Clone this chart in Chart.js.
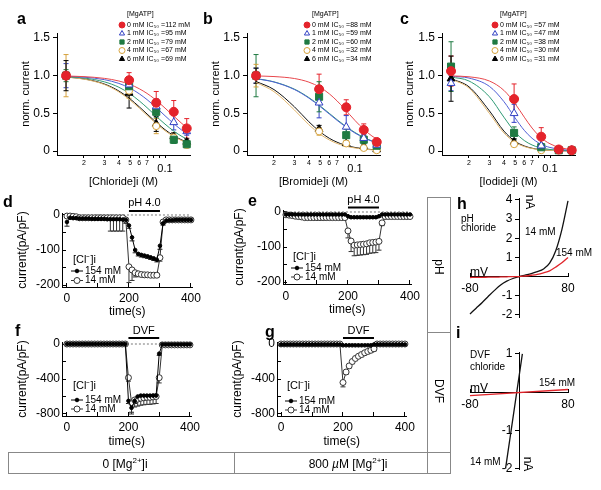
<!DOCTYPE html>
<html lang="en">
<head>
<meta charset="UTF-8">
<title>Halide block and acid / DVF currents</title>
<script src="https://cdn.jsdelivr.net/npm/chart.js"></script>
<style>
  body { margin: 0; background: #fff; }
  #fig { position: relative; width: 601px; height: 490px; overflow: hidden;
         font-family: 'Liberation Sans', Arial, sans-serif; color: #000; }
  #fig canvas { position: absolute; }
  .t { position: absolute; white-space: nowrap; line-height: 1; }
  .lt { font-weight: bold; font-size: 16px; }
  .sm { font-size: 10px; }
  .md { font-size: 12px; }
  .box { position: absolute; border: 1px solid #888; box-sizing: border-box; }
  .hl { position: absolute; height: 0; border-top: 1px solid #888; }
  .vl { position: absolute; width: 0; border-left: 1px solid #888; }
  .rot { transform: translate(-50%, -50%) rotate(90deg); }
  .ctr { transform: translate(-50%, -50%); }
</style>
</head>
<body>
<div id="fig">
  <canvas id="chA" width="205" height="195" style="left:0;top:0"></canvas>
  <canvas id="chB" width="205" height="195" style="left:195px;top:0"></canvas>
  <canvas id="chC" width="211" height="195" style="left:390px;top:0"></canvas>
  <canvas id="chD" width="215" height="125" style="left:0;top:195px"></canvas>
  <canvas id="chE" width="215" height="125" style="left:215px;top:195px"></canvas>
  <canvas id="chF" width="215" height="128" style="left:0;top:322px"></canvas>
  <canvas id="chG" width="215" height="128" style="left:215px;top:322px"></canvas>
  <canvas id="chH" width="161" height="143" style="left:440px;top:185px"></canvas>
  <canvas id="chI" width="161" height="140" style="left:440px;top:340px"></canvas>

  <div class="t lt" style="left:17px;top:11px">a</div>
  <div class="t lt" style="left:203px;top:11px">b</div>
  <div class="t lt" style="left:400px;top:11px">c</div>
  <div class="t lt" style="left:3px;top:194px">d</div>
  <div class="t lt" style="left:248px;top:193px">e</div>
  <div class="t lt" style="left:15px;top:323px">f</div>
  <div class="t lt" style="left:265px;top:324px">g</div>
  <div class="t lt" style="left:457px;top:196px">h</div>
  <div class="t lt" style="left:456px;top:325px">i</div>

  <div class="t sm" style="left:461px;top:214px;line-height:9px">pH<br>chloride</div>
  <div class="t sm" style="left:525px;top:227px">14 mM</div>
  <div class="t sm" style="left:556px;top:248px">154 mM</div>
  <div class="t md" style="left:470px;top:266px">mV</div>
  <div class="t md rot" style="left:530px;top:202px">nA</div>

  <div class="t sm" style="left:470px;top:349px;line-height:11.5px">DVF<br>chloride</div>
  <div class="t sm" style="left:539px;top:378px">154 mM</div>
  <div class="t md" style="left:470px;top:382px">mV</div>
  <div class="t sm" style="left:470px;top:457px">14 mM</div>
  <div class="t md rot" style="left:528px;top:464px">nA</div>

  <div class="box" style="left:427px;top:197px;width:24px;height:277px"></div>
  <div class="hl" style="left:427px;top:332px;width:24px"></div>
  <div class="box" style="left:8px;top:452px;width:443px;height:22px"></div>
  <div class="vl" style="left:234px;top:452px;height:22px"></div>
  <div class="t md rot" style="left:439px;top:267px">pH</div>
  <div class="t md rot" style="left:439px;top:391px">DVF</div>
  <div class="t md ctr" style="left:125px;top:463px">0 [Mg<sup style="font-size:8px">2+</sup>]i</div>
  <div class="t md ctr" style="left:348px;top:463px">800 <i>µ</i>M [Mg<sup style="font-size:8px">2+</sup>]i</div>
</div>

<script>
// ---- dose-response (a, b, c) ----
const conc = [0.014, 0.049, 0.084, 0.119, 0.154];            // M
const fitX = [0.014, 0.02, 0.03, 0.04, 0.05, 0.06, 0.07, 0.08, 0.09, 0.1, 0.12, 0.14, 0.16];
const mgLabels = ['0 mM', '1 mM', '2 mM', '4 mM', '6 mM'];
const ic50Cl = [112, 95, 79, 67, 69];
const ic50Br = [88, 59, 60, 32, 34];
const ic50I = [57, 47, 38, 30, 31];

const clMean = [
  [1.0, 0.94, 0.64, 0.52, 0.30],
  [1.0, 0.88, 0.59, 0.38, 0.26],
  [1.0, 0.86, 0.52, 0.15, 0.09],
  [1.0, 0.80, 0.33, 0.18, 0.08],
  [1.0, 0.77, 0.36, 0.19, 0.12]
];
const clErr = [
  [0.05, 0.10, 0.15, 0.15, 0.13],
  [0.16, 0.08, 0.10, 0.10, 0.05],
  [0.08, 0.08, 0.08, 0.05, 0.04],
  [0.28, 0.10, 0.10, 0.06, 0.04],
  [0.20, 0.20, 0.10, 0.05, 0.04]
];
const clFit = [
  [0.995, 0.987, 0.964, 0.929, 0.883, 0.826, 0.764, 0.699, 0.633, 0.570, 0.457, 0.364, 0.291],
  [0.992, 0.980, 0.947, 0.897, 0.833, 0.759, 0.682, 0.606, 0.534, 0.468, 0.358, 0.275, 0.214],
  [0.987, 0.969, 0.918, 0.846, 0.758, 0.665, 0.575, 0.492, 0.419, 0.357, 0.260, 0.193, 0.146],
  [0.980, 0.954, 0.882, 0.784, 0.675, 0.569, 0.473, 0.391, 0.324, 0.269, 0.189, 0.137, 0.102],
  [0.982, 0.957, 0.889, 0.796, 0.691, 0.586, 0.491, 0.409, 0.340, 0.283, 0.200, 0.146, 0.109]
];

const brMean = [
  [1.0, 0.82, 0.58, 0.28, 0.12],
  [1.0, 0.64, 0.32, 0.17, 0.08],
  [1.0, 0.72, 0.21, 0.15, 0.07],
  [1.0, 0.26, 0.10, 0.04, 0.01],
  [1.0, 0.29, 0.10, 0.06, 0.02]
];
const brErr = [
  [0.05, 0.20, 0.10, 0.08, 0.03],
  [0.10, 0.20, 0.15, 0.05, 0.04],
  [0.28, 0.20, 0.08, 0.05, 0.03],
  [0.15, 0.05, 0.03, 0.02, 0.01],
  [0.10, 0.05, 0.03, 0.02, 0.01]
];
const brFit = [
  [0.996, 0.988, 0.962, 0.914, 0.845, 0.759, 0.665, 0.571, 0.483, 0.405, 0.283, 0.199, 0.143],
  [0.960, 0.915, 0.816, 0.702, 0.590, 0.491, 0.407, 0.339, 0.283, 0.238, 0.173, 0.130, 0.100],
  [0.962, 0.918, 0.821, 0.709, 0.599, 0.500, 0.416, 0.347, 0.291, 0.245, 0.179, 0.134, 0.104],
  [0.910, 0.788, 0.545, 0.349, 0.223, 0.147, 0.100, 0.071, 0.052, 0.040, 0.024, 0.016, 0.011],
  [0.923, 0.815, 0.587, 0.388, 0.254, 0.169, 0.117, 0.083, 0.061, 0.047, 0.028, 0.019, 0.013]
];

const ioMean = [
  [1.06, 0.69, 0.19, 0.02, 0.01],
  [0.90, 0.50, 0.07, 0.02, 0.01],
  [1.12, 0.24, 0.05, 0.01, 0.01],
  [1.05, 0.09, 0.01, 0.01, 0.00],
  [0.96, 0.12, 0.07, 0.02, 0.01]
];
const ioErr = [
  [0.20, 0.20, 0.12, 0.02, 0.02],
  [0.10, 0.12, 0.03, 0.02, 0.01],
  [0.33, 0.08, 0.03, 0.01, 0.01],
  [0.10, 0.03, 0.01, 0.01, 0.01],
  [0.30, 0.04, 0.02, 0.01, 0.01]
];
const ioFit = [
  [0.996, 0.985, 0.929, 0.805, 0.628, 0.449, 0.305, 0.205, 0.139, 0.096, 0.048, 0.027, 0.016],
  [0.992, 0.968, 0.858, 0.656, 0.438, 0.274, 0.169, 0.106, 0.069, 0.047, 0.023, 0.013, 0.007],
  [0.982, 0.929, 0.720, 0.449, 0.250, 0.139, 0.080, 0.048, 0.031, 0.020, 0.010, 0.005, 0.003],
  [0.955, 0.835, 0.500, 0.240, 0.115, 0.059, 0.033, 0.019, 0.012, 0.008, 0.004, 0.002, 0.001],
  [0.960, 0.852, 0.533, 0.265, 0.129, 0.067, 0.037, 0.022, 0.014, 0.009, 0.004, 0.002, 0.001]
];

const logTicks = [0.02, 0.03, 0.04, 0.05, 0.06, 0.07, 0.08, 0.09, 0.1];
const logTickText = ['2', '3', '4', '5', '6', '7', '', '', ['', '0.1']];
const normTicks = [0, 0.5, 1, 1.5];

// ---- time courses (d, e, f, g) ----
const tSec = [0,10,20,30,40,50,60,70,80,90,100,110,120,130,140,150,160,170,180,190,200,
              210,220,230,240,250,260,270,280,290,300,310,320,330,340,350,360,370,380,390,400];
const timeTicks = [0, 100, 200, 300, 400];

const dCl154 = [-20,-8,-9,-9,-10,-10,-10,-10,-11,-11,-11,-11,-11,-12,-12,-12,-12,-12,-13,-14,
                -30,-64,-100,-111,-114,-116,-118,-121,-124,-128,-88,-24,-16,-15,-15,-14,-14,-14,-14,-14,-14];
const dCl154Err = [12,2,2,2,2,2,2,2,2,2,2,2,2,2,2,2,2,2,2,3,8,10,8,6,6,6,6,6,6,6,10,5,2,2,2,2,2,2,2,2,2];
const dCl14 = [-3,-3,-4,-5,-8,-8,-8,-8,-8,-8,-8,-8,-8,-8,-8,-8,-8,-8,-8,-14,
               -148,-157,-165,-168,-170,-171,-171,-172,-172,-172,-122,-20,-14,-14,-14,-14,-14,-14,-14,-14,-14];
const dCl14Err = [3,3,3,3,3,3,3,3,3,3,3,3,3,3,38,38,38,38,38,10,45,30,12,6,6,6,6,6,6,6,10,4,3,3,3,3,3,3,3,3,3];

const eCl154 = [-7,-7,-7,-7,-7,-7,-7,-7,-7,-7,-7,-7,-7,-7,-7,-7,-7,-7,-7,-7,
                -12,-15,-15,-15,-15,-15,-15,-15,-15,-15,-12,-7,-7,-7,-7,-7,-7,-7,-7,-7,-7];
const eCl154Err = [0,0,0,0,0,0,0,0,0,0,0,0,0,0,0,0,0,0,0,0,3,3,3,3,3,3,3,3,3,3,3,0,0,0,0,0,0,0,0,0,0];
const eCl14 = [-8,-9,-10,-12,-13,-14,-16,-16,-16,-16,-16,-16,-16,-16,-16,-16,-16,-16,-16,-16,
               -54,-83,-95,-94,-93,-92,-91,-88,-87,-86,-84,-31,-13,-13,-13,-13,-13,-13,-13,-13,-13];
const eCl14Err = [3,3,3,3,3,3,3,3,3,3,3,3,3,3,3,3,3,3,3,3,20,30,30,30,30,30,30,30,30,30,25,8,3,3,3,3,3,3,3,3,3];

const fCl154 = [0,0,0,0,0,0,0,0,0,0,0,0,0,0,0,0,0,0,0,0,
                -650,-730,-650,-600,-590,-590,-590,-590,-590,-590,-110,-5,-5,-5,-5,-5,-5,-5,-5,-5,-5];
const fCl154Err = [0,0,0,0,0,0,0,0,0,0,0,0,0,0,0,0,0,0,0,0,30,50,30,20,20,20,20,20,20,20,20,0,0,0,0,0,0,0,0,0,0];
const fCl14 = [0,0,0,0,0,0,0,0,0,0,0,0,0,0,0,0,0,0,0,0,
               -385,-670,-640,-630,-620,-615,-610,-610,-605,-600,-385,-10,-10,-10,-10,-10,-10,-10,-10,-10,-10];
const fCl14Err = [0,0,0,0,0,0,0,0,0,0,0,0,0,0,0,0,0,0,0,0,40,130,80,80,80,80,80,80,80,80,60,0,0,0,0,0,0,0,0,0,0];

const gCl154 = [-5,-5,-5,-5,-5,-5,-5,-5,-5,-5,-5,-5,-5,-5,-5,-5,-5,-5,-5,-5,
                -15,-15,-15,-15,-15,-15,-15,-15,-15,-15,-5,-5,-5,-5,-5,-5,-5,-5,-5,-5,-5];
const gCl14 = [0,0,0,0,0,0,0,0,0,0,0,0,0,0,0,0,0,0,0,0,
               -440,-320,-250,-200,-165,-140,-120,-100,-85,-72,-55,0,0,0,0,0,0,0,0,0,0];
const gCl14Err = [0,0,0,0,0,0,0,0,0,0,0,0,0,0,0,0,0,0,0,0,50,25,25,25,25,25,25,25,25,25,25,0,0,0,0,0,0,0,0,0,0];

// ---- I-V (h, i) ----
const ivMv = [-80,-70,-60,-50,-40,-30,-20,-10,0,10,20,30,40,50,60,70,80];
const hCl14 = [-1.95,-1.65,-1.35,-1.03,-0.72,-0.44,-0.24,-0.10,0,0.08,0.16,0.26,0.40,0.70,1.35,2.45,3.95];
const hCl154 = [-0.05,-0.04,-0.04,-0.03,-0.03,-0.02,-0.01,0,0,0.03,0.07,0.12,0.20,0.30,0.50,0.72,1.00];
const iMv14 = [-22, 5.5];
const iCl14 = [-2, 1];
const iMv154 = [-80, 80];
const iCl154 = [-0.09, 0.07];

// ---- styles ----
const FONT = "'Liberation Sans', Arial, sans-serif";
Chart.defaults.font.family = FONT;
Chart.defaults.color = '#000';
Chart.defaults.animation = false;
Chart.defaults.responsive = false;
Chart.defaults.plugins.legend.display = false;
Chart.defaults.plugins.tooltip.enabled = false;

const mgStyle = [
  {shape: 'circle',   r: 4.5, fill: '#e4232b', edge: '#e4232b', line: '#e8474c'},
  {shape: 'triangle', r: 4.5, fill: '#ffffff', edge: '#3342c4', line: '#4f5fd6'},
  {shape: 'rect',     r: 5,   fill: '#1f7a42', edge: '#1f7a42', line: '#2e9a74'},
  {shape: 'circle',   r: 3.5, fill: '#ffffff', edge: '#d6a23c', line: '#e2b56a'},
  {shape: 'triangle', r: 4.5, fill: '#000000', edge: '#000000', line: '#111111'}
];

const pts = (xs, ys) => xs.map((x, i) => ({x, y: ys[i]}));

// error bars, drawn under the markers
Chart.register({
  id: 'errorBars',
  beforeDatasetsDraw(chart) {
    const ctx = chart.ctx, ys = chart.scales.y;
    chart.data.datasets.forEach((ds, i) => {
      if (!ds.errors) return;
      const meta = chart.getDatasetMeta(i);
      ctx.save();
      ctx.strokeStyle = ds.errorColor || '#333';
      ctx.lineWidth = 1;
      meta.data.forEach((pt, j) => {
        const e = ds.errors[j];
        if (!e) return;
        const v = ds.data[j].y;
        const ends = ds.errorDown ? [v - e] : [v - e, v + e];
        ends.forEach(end => {
          const yy = ys.getPixelForValue(end);
          ctx.beginPath();
          ctx.moveTo(pt.x, pt.y); ctx.lineTo(pt.x, yy);
          ctx.moveTo(pt.x - 2.5, yy); ctx.lineTo(pt.x + 2.5, yy);
          ctx.stroke();
        });
      });
      ctx.restore();
    });
  }
});

// dashed zero line across the recording
Chart.register({
  id: 'zeroLine',
  beforeDatasetsDraw(chart, args, o) {
    if (!o.show) return;
    const {ctx, scales} = chart;
    const y = scales.y.getPixelForValue(0);
    ctx.save();
    ctx.strokeStyle = '#777'; ctx.lineWidth = 1; ctx.setLineDash([2, 2]);
    ctx.beginPath();
    ctx.moveTo(scales.x.getPixelForValue(0), y);
    ctx.lineTo(scales.x.getPixelForValue(400), y);
    ctx.stroke();
    ctx.restore();
  }
});

// application bar (pH 4.0 / DVF)
Chart.register({
  id: 'stimBar',
  afterDraw(chart, args, o) {
    if (!o.label) return;
    const {ctx, chartArea, scales} = chart;
    const x1 = scales.x.getPixelForValue(o.from), x2 = scales.x.getPixelForValue(o.to);
    ctx.save();
    ctx.fillStyle = '#000';
    ctx.fillRect(x1, chartArea.top + o.barDy - 1, x2 - x1, 2);
    ctx.font = '11px ' + FONT;
    ctx.textAlign = 'center'; ctx.textBaseline = 'middle';
    ctx.fillText(o.label, (x1 + x2) / 2, chartArea.top + o.textDy);
    ctx.restore();
  }
});

// [MgATP] legend of a-c
Chart.register({
  id: 'mgLegend',
  afterDatasetsDraw(chart, args, o) {
    if (!o.labels) return;
    const ctx = chart.ctx;
    ctx.save();
    ctx.font = '7px ' + FONT;
    ctx.textBaseline = 'middle';
    ctx.fillStyle = '#000';
    ctx.fillText('[MgATP]', o.x + 5, o.y - 11);
    o.labels.forEach((txt, i) => {
      const ds = chart.data.datasets[i];
      const y = o.y + i * o.dy;
      ctx.fillStyle = ds.pointBackgroundColor;
      ctx.strokeStyle = ds.pointBorderColor;
      ctx.lineWidth = 1;
      Chart.helpers.drawPoint(ctx, {pointStyle: ds.pointStyle, radius: 3, borderWidth: 1, rotation: 0}, o.x, y);
      ctx.fillStyle = '#000';
      ctx.fillText(txt, o.x + 5, y);
    });
    ctx.restore();
  }
});

// [Cl-]i legend of d-g
Chart.register({
  id: 'clLegend',
  afterDatasetsDraw(chart, args, o) {
    if (!o.labels) return;
    const ctx = chart.ctx;
    ctx.save();
    ctx.textBaseline = 'middle';
    ctx.fillStyle = '#000';
    ctx.font = '11px ' + FONT;
    ctx.fillText('[Cl\u207B]i', o.x - 4, o.hy);
    ctx.font = '10px ' + FONT;
    o.labels.forEach((txt, i) => {
      const ds = chart.data.datasets[i];
      const y = o.ys[i];
      ctx.strokeStyle = ds.borderColor; ctx.lineWidth = 1;
      ctx.beginPath(); ctx.moveTo(o.x - 6, y); ctx.lineTo(o.x + 6, y); ctx.stroke();
      ctx.fillStyle = ds.pointBackgroundColor; ctx.strokeStyle = ds.pointBorderColor;
      Chart.helpers.drawPoint(ctx, {pointStyle: 'circle', radius: ds.pointRadius, borderWidth: 1, rotation: 0}, o.x, y);
      ctx.fillStyle = '#000';
      ctx.fillText(txt, o.x + 8, y);
    });
    ctx.restore();
  }
});

function doseChart(id, mean, err, fit, ic50, o) {
  const datasets = mgStyle.map((s, k) => ({
    data: pts(conc, mean[k]), errors: err[k], errorColor: s.edge, showLine: false,
    pointStyle: s.shape, pointRadius: s.r, pointBackgroundColor: s.fill,
    pointBorderColor: s.edge, pointBorderWidth: 1, clip: false
  })).concat(mgStyle.map((s, k) => ({
    data: pts(fitX, fit[k]), showLine: true, pointRadius: 0, borderColor: s.line,
    borderWidth: 1, cubicInterpolationMode: 'monotone', clip: false
  })));
  return new Chart(document.getElementById(id), {
    type: 'scatter',
    data: {datasets},
    options: {
      layout: {padding: {top: 33, right: o.padRight, left: 0, bottom: 0}},
      scales: {
        x: {
          type: 'logarithmic', min: 0.0117, max: 0.1643,
          afterBuildTicks: s => { s.ticks = logTicks.map(v => ({value: v})); },
          afterFit: s => { s.height = 40; },
          grid: {drawOnChartArea: false, tickLength: 3, color: '#000'},
          border: {color: '#000'},
          ticks: {
            autoSkip: false, maxRotation: 0, padding: 1, color: '#000',
            callback: (v, i) => logTickText[i],
            font: c => (c.index === 8 ? {size: 11, lineHeight: 0.6} : {size: 7})
          },
          title: {display: true, text: o.xTitle, font: {size: 11}, padding: {top: 0, bottom: 6.4}}
        },
        y: {
          min: -0.053, max: 1.566,
          afterBuildTicks: s => { s.ticks = normTicks.map(v => ({value: v})); },
          afterFit: s => { s.width = o.leftW; },
          grid: {drawOnChartArea: false, tickLength: 4, color: '#000'},
          border: {color: '#000'},
          ticks: {padding: 3, font: {size: 12}, color: '#000', callback: v => (v === 0 ? '0' : v.toFixed(1))},
          title: {display: true, text: 'norm. current', font: {size: 11}, padding: {top: o.yTitlePad, bottom: 0}}
        }
      },
      plugins: {
        mgLegend: {x: o.legX, y: 25, dy: 8.5, labels: mgLabels.map((m, i) => m + ' IC\u2085\u2080 =' + ic50[i] + ' mM')}
      }
    }
  });
}

function timeChart(id, c154, e154, c14, e14, o) {
  return new Chart(document.getElementById(id), {
    type: 'line',
    data: {datasets: [
      {data: pts(tSec, c154), errors: e154, errorDown: true, errorColor: '#222', borderColor: '#000',
       borderWidth: 1, pointRadius: 1.8, pointBackgroundColor: '#000', pointBorderColor: '#000',
       pointBorderWidth: 1, tension: 0, clip: false},
      {data: pts(tSec, c14), errors: e14, errorDown: true, errorColor: '#333', borderColor: '#333',
       borderWidth: 1, pointRadius: 3, pointBackgroundColor: '#fff', pointBorderColor: '#333',
       pointBorderWidth: 1, tension: 0, clip: false}
    ]},
    options: {
      layout: {padding: {top: o.padTop, right: o.padRight, left: 0, bottom: 0}},
      scales: {
        x: {
          type: 'linear', min: o.xMin, max: 405,
          afterBuildTicks: s => { s.ticks = timeTicks.map(v => ({value: v})); },
          afterFit: s => { s.height = o.bottomH; },
          grid: {drawOnChartArea: false, tickLength: -4, color: '#000'},
          border: {color: '#000'},
          ticks: {autoSkip: false, maxRotation: 0, padding: o.xPad, font: {size: 12}, color: '#000',
                  callback: v => (v % 200 === 0 ? String(v) : '')},
          title: {display: true, text: 'time(s)', font: {size: 12}, padding: {top: 0, bottom: o.xTitlePad}}
        },
        y: {
          type: 'linear', min: o.yMin, max: o.yMax,
          afterBuildTicks: s => { s.ticks = o.yTicks.map(v => ({value: v})); },
          afterFit: s => { s.width = o.leftW; },
          grid: {drawOnChartArea: false, tickLength: -4, color: '#000'},
          border: {color: '#000'},
          ticks: {padding: 6, font: {size: 12}, color: '#000',
                  callback: v => (o.yLabels.includes(v) ? String(v) : '')},
          title: {display: true, text: 'current(pA/pF)', font: {size: 12}, padding: {top: o.yTitlePad, bottom: 0}}
        }
      },
      plugins: {
        zeroLine: {show: true},
        stimBar: {label: o.stim, from: 200, to: 300, barDy: o.barDy, textDy: o.textDy},
        clLegend: {x: o.legX, hy: o.legHy, ys: o.legYs, labels: ['154 mM', '14 mM']}
      }
    }
  });
}

function ivChart(id, sets, o) {
  return new Chart(document.getElementById(id), {
    type: 'scatter',
    data: {datasets: sets.map(s => ({
      data: pts(s.x, s.y), showLine: true, pointRadius: 0, borderColor: s.color,
      borderWidth: 1.3, cubicInterpolationMode: 'monotone', clip: false
    }))},
    options: {
      layout: {padding: {top: o.padTop, right: 33, left: 30, bottom: 8}},
      scales: {
        x: {
          type: 'linear', position: {y: 0}, min: -80, max: 80,
          afterBuildTicks: s => { s.ticks = [{value: -80}, {value: 80}]; },
          grid: {drawOnChartArea: false, tickLength: -4, color: '#000'},
          border: {color: '#000'},
          ticks: {autoSkip: false, maxRotation: 0, padding: o.xPad, font: {size: 12}, color: '#000'}
        },
        y: {
          type: 'linear', position: {x: 0}, min: o.yMin, max: o.yMax,
          afterBuildTicks: s => { s.ticks = o.yTicks.map(v => ({value: v})); },
          grid: {drawOnChartArea: false, tickLength: 4, color: '#000'},
          border: {color: '#000'},
          ticks: {autoSkip: false, font: {size: 12}, color: '#000', callback: v => (v === 0 ? '' : v + '  ')}
        }
      }
    }
  });
}

doseChart('chA', clMean, clErr, clFit, ic50Cl, {leftW: 57, padRight: 15, yTitlePad: 19.4, legX: 122, xTitle: '[Chloride]i (M)'});
doseChart('chB', brMean, brErr, brFit, ic50Br, {leftW: 52, padRight: 20, yTitlePad: 14.4, legX: 112, xTitle: '[Bromide]i (M)'});
doseChart('chC', ioMean, ioErr, ioFit, ic50I, {leftW: 52, padRight: 26, yTitlePad: 13.4, legX: 105, xTitle: '[Iodide]i (M)'});

const phTicks = [-200, -150, -100, -50, 0];
const phLabels = [0, -100, -200];
const dvfTicks = [-800, -600, -400, -200, 0];
const dvfLabels = [0, -400, -800];

timeChart('chD', dCl154, dCl154Err, dCl14, dCl14Err, {
  padTop: 18, padRight: 22.5, bottomH: 33, leftW: 62, xMin: -16, yMin: -205.7, yMax: 5.7,
  yTicks: phTicks, yLabels: phLabels, xPad: 8.8, xTitlePad: 0.8, yTitlePad: 15.8,
  stim: 'pH 4.0', barDy: -2, textDy: -10, legX: 77, legHy: 65, legYs: [76, 85.5]});
timeChart('chE', eCl154, eCl154Err, eCl14, eCl14Err, {
  padTop: 15, padRight: 16.4, bottomH: 36, leftW: 68, xMin: -9.5, yMin: -205.7, yMax: 5.7,
  yTicks: phTicks, yLabels: phLabels, xPad: 9.8, xTitlePad: 2.8, yTitlePad: 17.8,
  stim: 'pH 4.0', barDy: -2.5, textDy: -10, legX: 82, legHy: 62, legYs: [73, 82]});
timeChart('chF', fCl154, fCl154Err, fCl14, fCl14Err, {
  padTop: 20, padRight: 23.5, bottomH: 34, leftW: 62, xMin: -16, yMin: -823, yMax: 23,
  yTicks: dvfTicks, yLabels: dvfLabels, xPad: 8.8, xTitlePad: 0.8, yTitlePad: 15.8,
  stim: 'DVF', barDy: -4, textDy: -11, legX: 77, legHy: 64, legYs: [78, 87]});
timeChart('chG', gCl154, null, gCl14, gCl14Err, {
  padTop: 20, padRight: 23.5, bottomH: 34, leftW: 62, xMin: -13, yMin: -823, yMax: 23,
  yTicks: dvfTicks, yLabels: dvfLabels, xPad: 8.8, xTitlePad: 0.8, yTitlePad: 15.8,
  stim: 'DVF', barDy: -4, textDy: -11, legX: 76, legHy: 64, legYs: [79, 88]});

ivChart('chH', [
  {x: ivMv, y: hCl154, color: '#e0242a'},
  {x: ivMv, y: hCl14, color: '#111'}
], {padTop: 13, yMin: -2.15, yMax: 4.1, yTicks: [-2, -1, 0, 1, 2, 3, 4], xPad: 8.8});
ivChart('chI', [
  {x: iMv154, y: iCl154, color: '#e0242a'},
  {x: iMv14, y: iCl14, color: '#111'}
], {padTop: 12, yMin: -2.03, yMax: 1.05, yTicks: [-2, -1, 0, 1], xPad: 9.8});
</script>
</body>
</html>
